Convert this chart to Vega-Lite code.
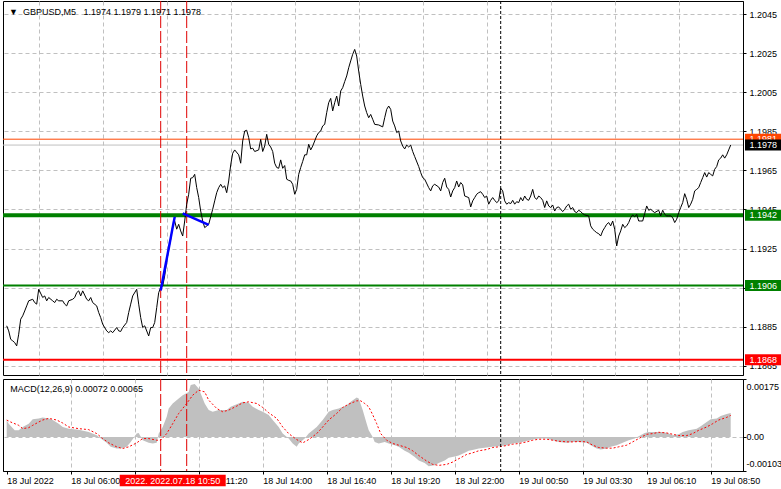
{
"$schema":"https://vega.github.io/schema/vega-lite/v6.json",
"background":"#ffffff",
"padding":0,
"spacing":2,
"config":{
 "view":{"stroke":"#000000","strokeWidth":1},
 "font":"Liberation Sans",
 "axis":{"labelFont":"Liberation Sans","labelFontSize":9,"labelColor":"#000000","tickColor":"#000000","domainColor":"#000000","gridColor":"#c0c0c0","gridDash":[4,3],"gridWidth":1,"title":null}
},
"datasets":{
 "price":[{"bar":0,"price":1.18854},{"bar":1,"price":1.18828},{"bar":2,"price":1.18785},{"bar":3,"price":1.18777},{"bar":4,"price":1.18768},{"bar":5,"price":1.18751},{"bar":6,"price":1.18811},{"bar":7,"price":1.18888},{"bar":8,"price":1.18905},{"bar":9,"price":1.1893},{"bar":10,"price":1.18956},{"bar":11,"price":1.18982},{"bar":13,"price":1.1899},{"bar":14,"price":1.18973},{"bar":15,"price":1.18965},{"bar":16,"price":1.19041},{"bar":18,"price":1.18999},{"bar":19,"price":1.19007},{"bar":20,"price":1.18982},{"bar":21,"price":1.18999},{"bar":23,"price":1.18982},{"bar":24,"price":1.18973},{"bar":25,"price":1.1899},{"bar":26,"price":1.18982},{"bar":28,"price":1.18982},{"bar":29,"price":1.18965},{"bar":30,"price":1.18956},{"bar":31,"price":1.18982},{"bar":33,"price":1.1899},{"bar":34,"price":1.18999},{"bar":35,"price":1.19024},{"bar":36,"price":1.19033},{"bar":37,"price":1.19007},{"bar":38,"price":1.19033},{"bar":40,"price":1.1899},{"bar":41,"price":1.18982},{"bar":42,"price":1.18999},{"bar":43,"price":1.18973},{"bar":45,"price":1.18956},{"bar":46,"price":1.18922},{"bar":47,"price":1.18896},{"bar":48,"price":1.18862},{"bar":50,"price":1.18828},{"bar":51,"price":1.18819},{"bar":52,"price":1.18828},{"bar":53,"price":1.18819},{"bar":55,"price":1.18845},{"bar":56,"price":1.18828},{"bar":57,"price":1.18825},{"bar":58,"price":1.18845},{"bar":60,"price":1.18871},{"bar":61,"price":1.18922},{"bar":62,"price":1.18965},{"bar":63,"price":1.19007},{"bar":65,"price":1.19041},{"bar":66,"price":1.18965},{"bar":67,"price":1.18896},{"bar":68,"price":1.18845},{"bar":69,"price":1.18854},{"bar":71,"price":1.18802},{"bar":72,"price":1.18845},{"bar":73,"price":1.18845},{"bar":74,"price":1.18871},{"bar":75,"price":1.18947},{"bar":76,"price":1.19024},{"bar":77,"price":1.1905},{"bar":78,"price":1.19058},{"bar":79,"price":1.1911},{"bar":80,"price":1.19186},{"bar":81,"price":1.19246},{"bar":82,"price":1.19297},{"bar":83,"price":1.19366},{"bar":84,"price":1.19391},{"bar":85,"price":1.19349},{"bar":86,"price":1.19374},{"bar":87,"price":1.1934},{"bar":88,"price":1.19314},{"bar":89,"price":1.19391},{"bar":90,"price":1.19477},{"bar":91,"price":1.19528},{"bar":92,"price":1.1961},{"bar":93,"price":1.19613},{"bar":94,"price":1.1963},{"bar":95,"price":1.19562},{"bar":96,"price":1.19511},{"bar":97,"price":1.19442},{"bar":98,"price":1.19391},{"bar":99,"price":1.19357},{"bar":101,"price":1.19374},{"bar":103,"price":1.19451},{"bar":104,"price":1.19494},{"bar":105,"price":1.19536},{"bar":106,"price":1.19562},{"bar":107,"price":1.19579},{"bar":108,"price":1.19562},{"bar":109,"price":1.19571},{"bar":110,"price":1.19536},{"bar":111,"price":1.19596},{"bar":112,"price":1.19678},{"bar":113,"price":1.19738},{"bar":114,"price":1.19755},{"bar":116,"price":1.1973},{"bar":117,"price":1.19687},{"bar":118,"price":1.19801},{"bar":119,"price":1.19852},{"bar":120,"price":1.19856},{"bar":121,"price":1.19818},{"bar":122,"price":1.1976},{"bar":123,"price":1.19764},{"bar":124,"price":1.19747},{"bar":126,"price":1.19755},{"bar":127,"price":1.19809},{"bar":128,"price":1.19747},{"bar":129,"price":1.19775},{"bar":130,"price":1.19835},{"bar":131,"price":1.19784},{"bar":132,"price":1.1977},{"bar":133,"price":1.19747},{"bar":134,"price":1.19687},{"bar":135,"price":1.19665},{"bar":136,"price":1.19661},{"bar":137,"price":1.19704},{"bar":138,"price":1.19661},{"bar":139,"price":1.19675},{"bar":140,"price":1.19605},{"bar":141,"price":1.19599},{"bar":142,"price":1.19596},{"bar":143,"price":1.19579},{"bar":144,"price":1.19528},{"bar":145,"price":1.19553},{"bar":146,"price":1.1963},{"bar":147,"price":1.19665},{"bar":148,"price":1.19696},{"bar":149,"price":1.1973},{"bar":150,"price":1.1973},{"bar":151,"price":1.19784},{"bar":152,"price":1.19755},{"bar":153,"price":1.19775},{"bar":154,"price":1.19801},{"bar":155,"price":1.19827},{"bar":156,"price":1.19844},{"bar":157,"price":1.19852},{"bar":158,"price":1.19878},{"bar":159,"price":1.19886},{"bar":160,"price":1.19946},{"bar":161,"price":1.19997},{"bar":162,"price":1.20019},{"bar":163,"price":1.19955},{"bar":164,"price":1.19997},{"bar":165,"price":1.20031},{"bar":166,"price":1.1998},{"bar":167,"price":1.20057},{"bar":168,"price":1.20074},{"bar":169,"price":1.20105},{"bar":170,"price":1.20134},{"bar":171,"price":1.20176},{"bar":172,"price":1.20211},{"bar":173,"price":1.20245},{"bar":174,"price":1.2027},{"bar":175,"price":1.20236},{"bar":176,"price":1.20159},{"bar":177,"price":1.20091},{"bar":178,"price":1.20031},{"bar":179,"price":1.1998},{"bar":180,"price":1.19946},{"bar":181,"price":1.1992},{"bar":182,"price":1.19937},{"bar":183,"price":1.19912},{"bar":184,"price":1.19886},{"bar":186,"price":1.19883},{"bar":188,"price":1.19873},{"bar":189,"price":1.1992},{"bar":190,"price":1.19963},{"bar":191,"price":1.1998},{"bar":192,"price":1.19963},{"bar":193,"price":1.19903},{"bar":194,"price":1.19878},{"bar":195,"price":1.19844},{"bar":196,"price":1.19852},{"bar":197,"price":1.19801},{"bar":198,"price":1.19775},{"bar":199,"price":1.1976},{"bar":200,"price":1.1978},{"bar":201,"price":1.1977},{"bar":202,"price":1.1978},{"bar":203,"price":1.19747},{"bar":204,"price":1.19721},{"bar":206,"price":1.1967},{"bar":207,"price":1.19639},{"bar":208,"price":1.19613},{"bar":209,"price":1.19605},{"bar":211,"price":1.19562},{"bar":212,"price":1.19545},{"bar":213,"price":1.19571},{"bar":214,"price":1.19579},{"bar":216,"price":1.19565},{"bar":217,"price":1.19545},{"bar":218,"price":1.19588},{"bar":219,"price":1.1961},{"bar":220,"price":1.19565},{"bar":221,"price":1.19553},{"bar":222,"price":1.19514},{"bar":223,"price":1.19545},{"bar":224,"price":1.19562},{"bar":225,"price":1.19596},{"bar":226,"price":1.19565},{"bar":227,"price":1.19588},{"bar":228,"price":1.19576},{"bar":229,"price":1.19519},{"bar":231,"price":1.19511},{"bar":232,"price":1.19463},{"bar":233,"price":1.19494},{"bar":234,"price":1.19511},{"bar":235,"price":1.19528},{"bar":236,"price":1.19536},{"bar":237,"price":1.19541},{"bar":238,"price":1.19528},{"bar":239,"price":1.19511},{"bar":240,"price":1.19519},{"bar":241,"price":1.19477},{"bar":242,"price":1.19497},{"bar":243,"price":1.19511},{"bar":244,"price":1.19497},{"bar":245,"price":1.19485},{"bar":246,"price":1.19494},{"bar":247,"price":1.19559},{"bar":248,"price":1.19545},{"bar":249,"price":1.19494},{"bar":250,"price":1.19477},{"bar":251,"price":1.19485},{"bar":252,"price":1.1948},{"bar":253,"price":1.19497},{"bar":254,"price":1.19477},{"bar":255,"price":1.1949},{"bar":256,"price":1.19485},{"bar":257,"price":1.19511},{"bar":258,"price":1.19494},{"bar":259,"price":1.19519},{"bar":260,"price":1.19502},{"bar":261,"price":1.19497},{"bar":262,"price":1.19519},{"bar":263,"price":1.19553},{"bar":264,"price":1.19511},{"bar":265,"price":1.19502},{"bar":266,"price":1.19519},{"bar":267,"price":1.19511},{"bar":268,"price":1.19497},{"bar":269,"price":1.1946},{"bar":270,"price":1.19494},{"bar":271,"price":1.19468},{"bar":272,"price":1.1946},{"bar":273,"price":1.19473},{"bar":274,"price":1.19442},{"bar":275,"price":1.1946},{"bar":276,"price":1.19463},{"bar":277,"price":1.19451},{"bar":278,"price":1.19439},{"bar":279,"price":1.19451},{"bar":280,"price":1.19468},{"bar":281,"price":1.19477},{"bar":282,"price":1.19451},{"bar":283,"price":1.1946},{"bar":284,"price":1.19439},{"bar":285,"price":1.19434},{"bar":286,"price":1.19446},{"bar":287,"price":1.19439},{"bar":288,"price":1.19429},{"bar":289,"price":1.19422},{"bar":291,"price":1.19417},{"bar":292,"price":1.19366},{"bar":293,"price":1.19349},{"bar":294,"price":1.1934},{"bar":295,"price":1.19331},{"bar":296,"price":1.19326},{"bar":297,"price":1.19314},{"bar":298,"price":1.1934},{"bar":299,"price":1.19357},{"bar":300,"price":1.19374},{"bar":301,"price":1.19383},{"bar":302,"price":1.19366},{"bar":303,"price":1.19391},{"bar":304,"price":1.19349},{"bar":305,"price":1.19263},{"bar":306,"price":1.19314},{"bar":307,"price":1.1934},{"bar":308,"price":1.19374},{"bar":309,"price":1.19357},{"bar":310,"price":1.19366},{"bar":311,"price":1.19383},{"bar":312,"price":1.19408},{"bar":313,"price":1.19422},{"bar":314,"price":1.19412},{"bar":315,"price":1.19425},{"bar":316,"price":1.19391},{"bar":317,"price":1.19391},{"bar":318,"price":1.19391},{"bar":319,"price":1.19429},{"bar":320,"price":1.19468},{"bar":321,"price":1.19446},{"bar":322,"price":1.19451},{"bar":323,"price":1.19442},{"bar":324,"price":1.19434},{"bar":326,"price":1.19446},{"bar":327,"price":1.19417},{"bar":328,"price":1.19446},{"bar":329,"price":1.19425},{"bar":330,"price":1.19417},{"bar":331,"price":1.19417},{"bar":332,"price":1.19417},{"bar":333,"price":1.19408},{"bar":334,"price":1.19383},{"bar":335,"price":1.194},{"bar":336,"price":1.19434},{"bar":337,"price":1.1946},{"bar":338,"price":1.19485},{"bar":339,"price":1.19531},{"bar":340,"price":1.19502},{"bar":341,"price":1.1946},{"bar":342,"price":1.19477},{"bar":343,"price":1.19502},{"bar":344,"price":1.19545},{"bar":345,"price":1.19553},{"bar":346,"price":1.19562},{"bar":347,"price":1.19588},{"bar":348,"price":1.19613},{"bar":349,"price":1.19639},{"bar":350,"price":1.19616},{"bar":351,"price":1.19639},{"bar":352,"price":1.1963},{"bar":353,"price":1.19622},{"bar":354,"price":1.19656},{"bar":355,"price":1.1967},{"bar":356,"price":1.19704},{"bar":357,"price":1.19713},{"bar":358,"price":1.1973},{"bar":359,"price":1.19713},{"bar":360,"price":1.1973},{"bar":361,"price":1.19755},{"bar":362,"price":1.1978}],
 "macd":[{"bar":0,"macd":0.00051},{"bar":1,"macd":0.0004},{"bar":4,"macd":0.0002},{"bar":6,"macd":0.0002},{"bar":8,"macd":0.0003},{"bar":11,"macd":0.0004},{"bar":13,"macd":0.00053},{"bar":16,"macd":0.00056},{"bar":18,"macd":0.00059},{"bar":21,"macd":0.00056},{"bar":23,"macd":0.00051},{"bar":26,"macd":0.0004},{"bar":28,"macd":0.0003},{"bar":31,"macd":0.00025},{"bar":36,"macd":0.00022},{"bar":41,"macd":0.00015},{"bar":45,"macd":0.00005},{"bar":47,"macd":-0.00005},{"bar":50,"macd":-0.00018},{"bar":52,"macd":-0.0003},{"bar":55,"macd":-0.00035},{"bar":57,"macd":-0.00035},{"bar":60,"macd":-0.0003},{"bar":62,"macd":-0.00015},{"bar":65,"macd":0.0001},{"bar":66,"macd":0.00012},{"bar":68,"macd":-0.0001},{"bar":71,"macd":-0.00018},{"bar":73,"macd":-0.0002},{"bar":75,"macd":-0.00018},{"bar":76,"macd":0.0001},{"bar":78,"macd":0.0003},{"bar":80,"macd":0.00061},{"bar":81,"macd":0.00086},{"bar":83,"macd":0.00101},{"bar":86,"macd":0.00116},{"bar":88,"macd":0.00126},{"bar":91,"macd":0.00136},{"bar":92,"macd":0.00157},{"bar":94,"macd":0.0016},{"bar":96,"macd":0.00146},{"bar":97,"macd":0.00131},{"bar":99,"macd":0.00101},{"bar":101,"macd":0.00081},{"bar":103,"macd":0.00076},{"bar":106,"macd":0.00081},{"bar":110,"macd":0.00081},{"bar":112,"macd":0.00091},{"bar":115,"macd":0.00099},{"bar":118,"macd":0.00106},{"bar":121,"macd":0.00103},{"bar":123,"macd":0.00091},{"bar":126,"macd":0.00081},{"bar":128,"macd":0.00076},{"bar":131,"macd":0.00066},{"bar":133,"macd":0.00051},{"bar":136,"macd":0.0003},{"bar":138,"macd":0.0001},{"bar":141,"macd":-0.00005},{"bar":143,"macd":-0.0002},{"bar":145,"macd":-0.0003},{"bar":146,"macd":-0.0002},{"bar":149,"macd":-0.00005},{"bar":151,"macd":0.0001},{"bar":155,"macd":0.0003},{"bar":158,"macd":0.00051},{"bar":161,"macd":0.00076},{"bar":163,"macd":0.00081},{"bar":166,"macd":0.00086},{"bar":170,"macd":0.00096},{"bar":172,"macd":0.00106},{"bar":175,"macd":0.00119},{"bar":176,"macd":0.00116},{"bar":178,"macd":0.00081},{"bar":180,"macd":0.0004},{"bar":181,"macd":0.0002},{"bar":183,"macd":0.0},{"bar":184,"macd":-0.00015},{"bar":186,"macd":-0.0002},{"bar":189,"macd":-0.00015},{"bar":191,"macd":-0.0002},{"bar":194,"macd":-0.00025},{"bar":196,"macd":-0.0003},{"bar":199,"macd":-0.00042},{"bar":201,"macd":-0.00048},{"bar":204,"macd":-0.00061},{"bar":206,"macd":-0.00071},{"bar":209,"macd":-0.00079},{"bar":211,"macd":-0.00089},{"bar":214,"macd":-0.00086},{"bar":216,"macd":-0.00079},{"bar":219,"macd":-0.00071},{"bar":221,"macd":-0.00063},{"bar":224,"macd":-0.00059},{"bar":226,"macd":-0.00056},{"bar":229,"macd":-0.00048},{"bar":231,"macd":-0.00042},{"bar":234,"macd":-0.00038},{"bar":236,"macd":-0.00035},{"bar":240,"macd":-0.00032},{"bar":243,"macd":-0.0003},{"bar":246,"macd":-0.00028},{"bar":250,"macd":-0.00025},{"bar":253,"macd":-0.0002},{"bar":256,"macd":-0.00018},{"bar":260,"macd":-0.00012},{"bar":263,"macd":-0.00008},{"bar":266,"macd":-0.00005},{"bar":270,"macd":-0.00005},{"bar":273,"macd":-0.0001},{"bar":276,"macd":-0.00015},{"bar":280,"macd":-0.00018},{"bar":283,"macd":-0.00015},{"bar":286,"macd":-0.00015},{"bar":290,"macd":-0.00018},{"bar":292,"macd":-0.00025},{"bar":295,"macd":-0.00035},{"bar":297,"macd":-0.00038},{"bar":300,"macd":-0.00035},{"bar":302,"macd":-0.0003},{"bar":305,"macd":-0.00025},{"bar":308,"macd":-0.00018},{"bar":311,"macd":-0.0001},{"bar":314,"macd":-0.00005},{"bar":316,"macd":0.00002},{"bar":319,"macd":0.00012},{"bar":321,"macd":0.00015},{"bar":325,"macd":0.00015},{"bar":328,"macd":0.00015},{"bar":331,"macd":0.0001},{"bar":333,"macd":0.00005},{"bar":336,"macd":0.00008},{"bar":338,"macd":0.00015},{"bar":341,"macd":0.0002},{"bar":345,"macd":0.00025},{"bar":347,"macd":0.00032},{"bar":350,"macd":0.00045},{"bar":352,"macd":0.00053},{"bar":355,"macd":0.00056},{"bar":357,"macd":0.00063},{"bar":360,"macd":0.00069},{"bar":362,"macd":0.00072}],
 "signal":[{"bar":0,"signal":0.00051},{"bar":2,"signal":0.00045},{"bar":6,"signal":0.00035},{"bar":8,"signal":0.00025},{"bar":11,"signal":0.00028},{"bar":13,"signal":0.00035},{"bar":16,"signal":0.00045},{"bar":18,"signal":0.00051},{"bar":21,"signal":0.00056},{"bar":25,"signal":0.00051},{"bar":28,"signal":0.00042},{"bar":31,"signal":0.0003},{"bar":36,"signal":0.00025},{"bar":41,"signal":0.00022},{"bar":45,"signal":0.0001},{"bar":48,"signal":-0.00005},{"bar":51,"signal":-0.00018},{"bar":55,"signal":-0.0003},{"bar":58,"signal":-0.00035},{"bar":61,"signal":-0.0003},{"bar":65,"signal":-0.00018},{"bar":68,"signal":-0.00005},{"bar":71,"signal":-0.00005},{"bar":75,"signal":-0.0001},{"bar":77,"signal":-0.0001},{"bar":80,"signal":0.0001},{"bar":83,"signal":0.0004},{"bar":86,"signal":0.00071},{"bar":90,"signal":0.00101},{"bar":93,"signal":0.00126},{"bar":96,"signal":0.00141},{"bar":99,"signal":0.00136},{"bar":101,"signal":0.00111},{"bar":105,"signal":0.00086},{"bar":108,"signal":0.00076},{"bar":111,"signal":0.00081},{"bar":115,"signal":0.00093},{"bar":118,"signal":0.00103},{"bar":121,"signal":0.00106},{"bar":125,"signal":0.00101},{"bar":128,"signal":0.00089},{"bar":131,"signal":0.00073},{"bar":135,"signal":0.00056},{"bar":138,"signal":0.0003},{"bar":141,"signal":0.0001},{"bar":145,"signal":-0.00008},{"bar":148,"signal":-0.00018},{"bar":151,"signal":-0.00008},{"bar":155,"signal":0.0001},{"bar":158,"signal":0.0003},{"bar":161,"signal":0.00051},{"bar":165,"signal":0.00071},{"bar":168,"signal":0.00089},{"bar":171,"signal":0.00099},{"bar":175,"signal":0.00109},{"bar":177,"signal":0.00109},{"bar":179,"signal":0.00101},{"bar":181,"signal":0.00091},{"bar":183,"signal":0.00067},{"bar":185,"signal":0.0004},{"bar":187,"signal":0.0001},{"bar":190,"signal":-0.0001},{"bar":193,"signal":-0.0002},{"bar":196,"signal":-0.00025},{"bar":200,"signal":-0.00032},{"bar":203,"signal":-0.00042},{"bar":206,"signal":-0.00056},{"bar":210,"signal":-0.00073},{"bar":213,"signal":-0.00083},{"bar":216,"signal":-0.00086},{"bar":220,"signal":-0.00083},{"bar":223,"signal":-0.00076},{"bar":226,"signal":-0.00066},{"bar":230,"signal":-0.00053},{"bar":233,"signal":-0.00048},{"bar":236,"signal":-0.00042},{"bar":240,"signal":-0.00038},{"bar":243,"signal":-0.00032},{"bar":246,"signal":-0.0003},{"bar":250,"signal":-0.00026},{"bar":253,"signal":-0.00022},{"bar":256,"signal":-0.0002},{"bar":260,"signal":-0.00015},{"bar":263,"signal":-0.0001},{"bar":266,"signal":-0.00007},{"bar":270,"signal":-0.00007},{"bar":273,"signal":-0.0001},{"bar":276,"signal":-0.00013},{"bar":280,"signal":-0.00015},{"bar":283,"signal":-0.00015},{"bar":286,"signal":-0.00014},{"bar":290,"signal":-0.00015},{"bar":293,"signal":-0.00025},{"bar":296,"signal":-0.00032},{"bar":300,"signal":-0.00034},{"bar":303,"signal":-0.00034},{"bar":306,"signal":-0.0003},{"bar":310,"signal":-0.00025},{"bar":313,"signal":-0.00015},{"bar":316,"signal":-0.00005},{"bar":320,"signal":0.00008},{"bar":323,"signal":0.0001},{"bar":326,"signal":0.00014},{"bar":330,"signal":0.00012},{"bar":333,"signal":0.00008},{"bar":336,"signal":0.00004},{"bar":340,"signal":0.00004},{"bar":343,"signal":0.0001},{"bar":346,"signal":0.0002},{"bar":350,"signal":0.0003},{"bar":353,"signal":0.0004},{"bar":356,"signal":0.00051},{"bar":360,"signal":0.00059},{"bar":362,"signal":0.00065}],
 "trend":[{"seg":1,"bar":77,"price":1.19035},{"seg":1,"bar":84,"price":1.19412},{"seg":2,"bar":88,"price":1.1943},{"seg":2,"bar":101,"price":1.19371}],
 "vlines":[{"bar":77,"kind":"entry"},{"bar":90,"kind":"entry"},{"bar":247,"kind":"session"}],
 "levels":[{"price":1.1981,"kind":"stop"},{"price":1.1978,"kind":"bid"},{"price":1.1942,"kind":"major"},{"price":1.1906,"kind":"minor"},{"price":1.1868,"kind":"low"}],
 "cursor":[{"bar":90,"label":"2022. 2022.07.18 10:50"}],
 "headers":[{"panel":"price","label":"▼\u00a0\u00a0GBPUSD,M5\u00a0\u00a0\u00a01.1974 1.1979 1.1971 1.1978"},{"panel":"macd","label":"MACD(12,26,9) 0.00072 0.00065"}]
},
"vconcat":[
 {
  "width":740,"height":374,
  "layer":[
   {"data":{"name":"levels"},"transform":[{"filter":"datum.kind=='stop'||datum.kind=='bid'"}],"mark":{"type":"rule","strokeWidth":1},
    "encoding":{"y":{"field":"price","type":"quantitative","scale":{"domain":[1.18602,1.20518],"nice":false,"zero":false}},
     "stroke":{"field":"kind","type":"nominal","scale":{"domain":["stop","bid","major","minor","low"],"range":["#ff4500","#c0c0c0","#008000","#008000","#ff0000"]},"legend":null}}},
   {"data":{"name":"levels"},"transform":[{"filter":"datum.kind=='major'"}],"mark":{"type":"rule","strokeWidth":4},
    "encoding":{"y":{"field":"price","type":"quantitative"},"stroke":{"field":"kind","type":"nominal","legend":null}}},
   {"data":{"name":"levels"},"transform":[{"filter":"datum.kind=='minor'||datum.kind=='low'"}],"mark":{"type":"rule","strokeWidth":2},
    "encoding":{"y":{"field":"price","type":"quantitative"},"stroke":{"field":"kind","type":"nominal","legend":null}}},
   {"data":{"name":"vlines"},"transform":[{"filter":"datum.kind=='entry'"}],"mark":{"type":"rule","color":"#e00000","strokeWidth":1,"strokeDash":[12,3]},
    "encoding":{"x":{"field":"bar","type":"quantitative"}}},
   {"data":{"name":"vlines"},"transform":[{"filter":"datum.kind=='session'"}],"mark":{"type":"rule","color":"#000000","strokeWidth":1,"strokeDash":[3,2]},
    "encoding":{"x":{"field":"bar","type":"quantitative"}}},
   {"data":{"name":"price"},"mark":{"type":"line","color":"#000000","strokeWidth":1},
    "encoding":{
     "x":{"field":"bar","type":"quantitative","scale":{"domain":[-1.85,368.15],"nice":false,"zero":false},
      "axis":{"values":[16,32,48,64,80,96,112,128,144,160,176,192,208,224,240,256,272,288,304,320,336,352],"labels":false,"ticks":false,"domain":false,"grid":true,"title":null,"minExtent":0,"maxExtent":0}},
     "y":{"field":"price","type":"quantitative","scale":{"domain":[1.18602,1.20518],"nice":false,"zero":false},
      "axis":{"orient":"right","values":[1.1865,1.1885,1.1905,1.1925,1.1945,1.1965,1.1985,1.2005,1.2025,1.2045],"format":".4f","title":null,"grid":true,"tickSize":3,"labelPadding":3,"labelFlush":false,"labelOverlap":false}}}},
   {"data":{"name":"trend"},"mark":{"type":"line","color":"#0000ff","strokeWidth":2.5},
    "encoding":{"x":{"field":"bar","type":"quantitative"},"y":{"field":"price","type":"quantitative"},"detail":{"field":"seg","type":"nominal"}}},
   {"data":{"name":"headers"},"transform":[{"filter":"datum.panel=='price'"}],"mark":{"type":"text","align":"left","baseline":"alphabetic","color":"#000000","font":"Liberation Sans","fontSize":9},
    "encoding":{"x":{"datum":1.15,"type":"quantitative"},"y":{"datum":1.20446,"type":"quantitative"},"text":{"field":"label","type":"nominal"}}},
   {"data":{"name":"levels"},"transform":[{"filter":"datum.kind=='stop'"}],"mark":{"type":"rule","strokeWidth":11,"clip":false},
    "encoding":{"x":{"datum":369.15,"type":"quantitative"},"x2":{"datum":387.15},"y":{"field":"price","type":"quantitative"},
     "color":{"field":"kind","type":"nominal","scale":{"domain":["stop","bid","major","minor","low"],"range":["#ff4500","#000000","#008000","#008000","#ff0000"]},"legend":null}}},
   {"data":{"name":"levels"},"transform":[{"filter":"datum.kind=='stop'"}],"mark":{"type":"text","align":"left","baseline":"middle","color":"#ffffff","font":"Liberation Sans","fontSize":9,"clip":false},
    "encoding":{"x":{"datum":371.4,"type":"quantitative"},"y":{"field":"price","type":"quantitative"},"text":{"field":"price","type":"quantitative","format":".4f"}}},
   {"data":{"name":"levels"},"transform":[{"filter":"datum.kind!='stop'"}],"mark":{"type":"rule","strokeWidth":11,"clip":false},
    "encoding":{"x":{"datum":369.15,"type":"quantitative"},"x2":{"datum":387.15},"y":{"field":"price","type":"quantitative"},
     "color":{"field":"kind","type":"nominal","legend":null}}},
   {"data":{"name":"levels"},"transform":[{"filter":"datum.kind!='stop'"}],"mark":{"type":"text","align":"left","baseline":"middle","color":"#ffffff","font":"Liberation Sans","fontSize":9,"clip":false},
    "encoding":{"x":{"datum":371.4,"type":"quantitative"},"y":{"field":"price","type":"quantitative"},"text":{"field":"price","type":"quantitative","format":".4f"}}}
  ]
 },
 {
  "width":740,"height":92,
  "layer":[
   {"data":{"name":"macd"},"mark":{"type":"area","color":"#c0c0c0","opacity":1},
    "encoding":{
     "x":{"field":"bar","type":"quantitative","scale":{"domain":[-1.85,368.15],"nice":false,"zero":false},
      "axis":{"values":[0,16,32,48,64,80,96,112,128,144,160,176,192,208,224,240,256,272,288,304,320,336,352],"title":null,"grid":true,
       "gridOpacity":{"condition":{"test":"datum.value > 0","value":1},"value":0},
       "tickOpacity":{"condition":{"test":"datum.value % 32 == 0","value":1},"value":0},
       "labelExpr":"datum.value % 32 == 0 ? ['18 Jul 2022','18 Jul 06:00','18 Jul 08:40','18 Jul 11:20','18 Jul 14:00','18 Jul 16:40','18 Jul 19:20','18 Jul 22:00','19 Jul 00:50','19 Jul 03:30','19 Jul 06:10','19 Jul 08:50'][datum.value / 32] : ''",
       "labelAlign":"left","labelBaseline":"top","labelPadding":2,"tickSize":3,"labelFlush":false,"labelOverlap":false}},
     "y":{"field":"macd","type":"quantitative","scale":{"domain":[-0.00103,0.00175],"nice":false,"zero":false},
      "axis":{"orient":"right","values":[-0.00103,0,0.00175],"title":null,"grid":true,
       "gridOpacity":{"condition":{"test":"datum.value == 0","value":1},"value":0},
       "labelExpr":"datum.value == 0 ? '0.00' : (datum.value < 0 ? '-' + format(-datum.value, '.5f') : format(datum.value, '.5f'))",
       "tickSize":3,"labelPadding":0,"labelFlush":true,"labelFlushOffset":-3,"labelOverlap":false}},
     "y2":{"datum":0}}},
   {"data":{"name":"signal"},"mark":{"type":"line","color":"#ff0000","strokeWidth":1,"strokeDash":[2,2]},
    "encoding":{"x":{"field":"bar","type":"quantitative"},"y":{"field":"signal","type":"quantitative"}}},
   {"data":{"name":"vlines"},"transform":[{"filter":"datum.kind=='entry'"}],"mark":{"type":"rule","color":"#e00000","strokeWidth":1,"strokeDash":[12,3]},
    "encoding":{"x":{"field":"bar","type":"quantitative"}}},
   {"data":{"name":"vlines"},"transform":[{"filter":"datum.kind=='session'"}],"mark":{"type":"rule","color":"#000000","strokeWidth":1,"strokeDash":[3,2]},
    "encoding":{"x":{"field":"bar","type":"quantitative"}}},
   {"data":{"name":"headers"},"transform":[{"filter":"datum.panel=='macd'"}],"mark":{"type":"text","align":"left","baseline":"alphabetic","color":"#000000","font":"Liberation Sans","fontSize":9},
    "encoding":{"x":{"datum":1.8,"type":"quantitative"},"y":{"datum":0.00137,"type":"quantitative"},"text":{"field":"label","type":"nominal"}}},
   {"data":{"name":"cursor"},"mark":{"type":"rule","color":"#ff0000","strokeWidth":11.5,"clip":false},
    "encoding":{"x":{"datum":56.5,"type":"quantitative"},"x2":{"datum":109.5},"y":{"datum":-0.00132,"type":"quantitative"}}},
   {"data":{"name":"cursor"},"mark":{"type":"text","align":"center","baseline":"middle","color":"#ffffff","font":"Liberation Sans","fontSize":9,"clip":false},
    "encoding":{"x":{"datum":83,"type":"quantitative"},"y":{"datum":-0.00132,"type":"quantitative"},"text":{"field":"label","type":"nominal"}}}
  ]
 }
]
}
